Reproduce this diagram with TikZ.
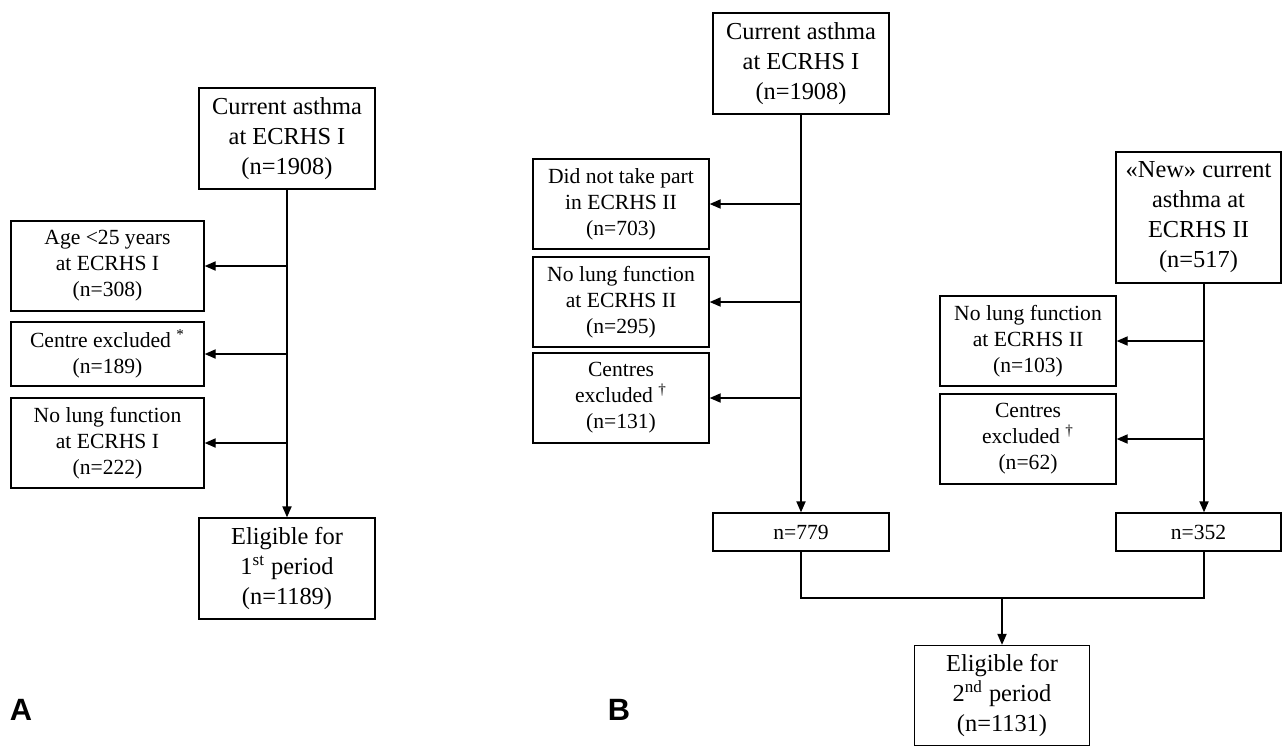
\documentclass[tikz,border=0pt]{standalone}
\usepackage{fontspec}
\setmainfont{Liberation Serif}
\newfontfamily\panelfont{Liberation Sans}
\usepackage{tikz}
\usetikzlibrary{arrows.meta}

\begin{document}
\begin{tikzpicture}[
        bigbox/.style = {draw, rectangle, line width = 0.7pt, align = center, inner sep = 0pt, minimum width = 88pt, minimum height = 50.5pt, font = \fontsize{12.2}{15}\selectfont},
        sidebox/.style = {draw, rectangle, line width = 0.7pt, align = center, inner sep = 0pt, minimum width = 88pt, minimum height = 45pt, font = \fontsize{10.8}{13}\selectfont},
        link/.style = {->, > = {Stealth[length = 5.5pt, width = 4.6pt, inset = 0pt]}, line width = 0.7pt}
    ]
        \useasboundingbox (0pt, 0pt) rectangle (641.5pt, -373pt);

        % Nodes, panel A
        \node [bigbox] (a1) at (143.5pt, -69.25pt) {Current asthma\\at ECRHS I\\(n=1908)};
        \node [sidebox, minimum width = 96.5pt] (a2) at (53.75pt, -133pt) {Age <25 years\\at ECRHS I\\(n=308)};
        \node [sidebox, minimum width = 96.5pt, minimum height = 32pt] (a3) at (53.75pt, -177pt) {Centre excluded \textsuperscript{*}\\(n=189)};
        \node [sidebox, minimum width = 96.5pt] (a4) at (53.75pt, -221.5pt) {No lung function\\at ECRHS I\\(n=222)};
        \node [bigbox] (a5) at (143.5pt, -284.25pt) {Eligible for\\1\textsuperscript{st} period\\(n=1189)};

        % Nodes, panel B
        \node [bigbox] (b1) at (400.5pt, -31.75pt) {Current asthma\\at ECRHS I\\(n=1908)};
        \node [sidebox] (b2) at (310.5pt, -102pt) {Did not take part\\in ECRHS II\\(n=703)};
        \node [sidebox] (b3) at (310.5pt, -151pt) {No lung function\\at ECRHS II\\(n=295)};
        \node [sidebox] (b4) at (310.5pt, -199pt) {Centres\\excluded \textsuperscript{†}\\(n=131)};
        \node [sidebox, minimum height = 19pt] (b5) at (400.5pt, -266pt) {n=779};
        \node [bigbox, minimum width = 82.5pt, minimum height = 65.5pt] (c1) at (599.25pt, -108.75pt) {«New» current\\asthma at\\ECRHS II\\(n=517)};
        \node [sidebox] (c2) at (514pt, -170.5pt) {No lung function\\at ECRHS II\\(n=103)};
        \node [sidebox] (c3) at (514pt, -219.5pt) {Centres\\excluded \textsuperscript{†}\\(n=62)};
        \node [sidebox, minimum width = 82.5pt, minimum height = 19pt] (c4) at (599.25pt, -266pt) {n=352};
        \node [bigbox, minimum width = 87.5pt, minimum height = 50pt] (b6) at (501pt, -347.75pt) {Eligible for\\2\textsuperscript{nd} period\\(n=1131)};

        % Draw the links, panel A
        \draw [link] (a1) -- (a5);
        \foreach \n in {a2, a3, a4} \draw [link] (a1.south |- \n.east) -- (\n.east);

        % Draw the links, panel B
        \draw [link] (b1) -- (b5);
        \foreach \n in {b2, b3, b4} \draw [link] (b1.south |- \n.east) -- (\n.east);
        \coordinate (cx) at ([xshift = 2.75pt]c1.south);
        \draw [link] (cx) -- (cx |- c4.north);
        \foreach \n in {c2, c3} \draw [link] (cx |- \n.east) -- (\n.east);
        \coordinate (m) at (501pt, -299pt);
        \draw [line width = 0.7pt] (b5) |- (m) -| (cx |- c4.south);
        \draw [link] (m) -- (b6);

        % Panel letters
        \node [font = \panelfont\bfseries\fontsize{15.4}{18}\selectfont] (pa) at (10.5pt, -355pt) {A};
        \node [font = \panelfont\bfseries\fontsize{15.4}{18}\selectfont] (pb) at (309.5pt, -355pt) {B};

    \end{tikzpicture}
\end{document}
